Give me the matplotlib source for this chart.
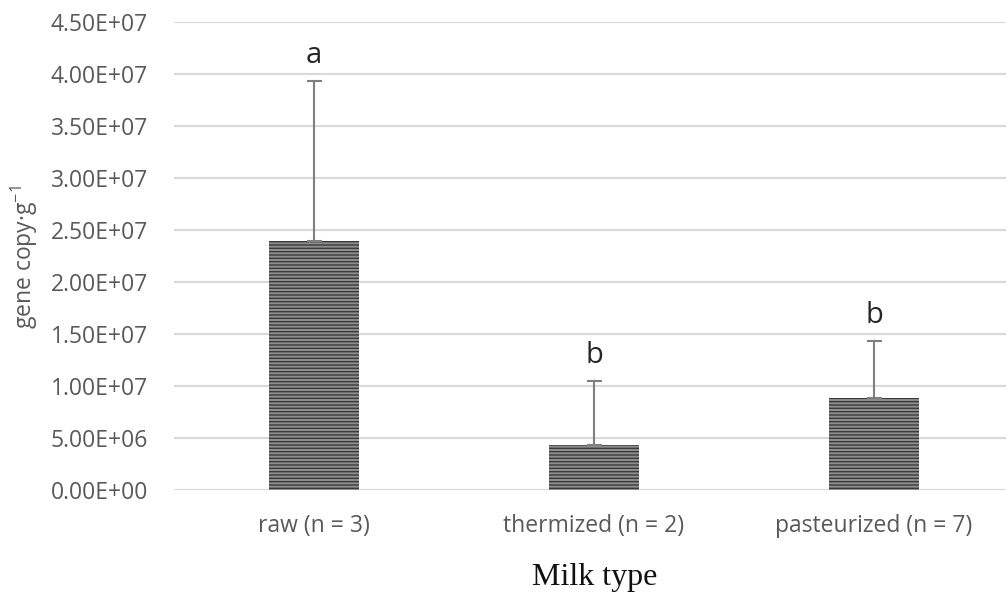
import matplotlib
matplotlib.use("Agg")
import matplotlib.pyplot as plt
import numpy as np

categories = ["raw (n = 3)", "thermized (n = 2)", "pasteurized (n = 7)"]
means = [2.39e7, 4.3e6, 8.8e6]
err_upper = [1.54e7, 6.2e6, 5.55e6]
letters = ["a", "b", "b"]
yticks = [0, 5e6, 1e7, 1.5e7, 2e7, 2.5e7, 3e7, 3.5e7, 4e7, 4.5e7]
ytick_labels = ["0.00E+00", "5.00E+06", "1.00E+07", "1.50E+07", "2.00E+07",
                "2.50E+07", "3.00E+07", "3.50E+07", "4.00E+07", "4.50E+07"]

plt.rcParams['hatch.linewidth'] = 1.0
plt.rcParams['mathtext.fontset'] = 'custom'
plt.rcParams['mathtext.rm'] = 'Open Sans'
plt.rcParams['mathtext.default'] = 'regular'

W, H = 1006, 598
fig = plt.figure(figsize=(W / 100, H / 100), dpi=100)
ax = fig.add_axes([174 / W, 1 - 490 / H, 840 / W, 468 / H])

x = np.arange(len(categories))
ax.bar(x, means, width=0.318, color='#8e8e8e', edgecolor='#3a3a3a', linewidth=0,
       hatch='-----', zorder=2)
ax.errorbar(x, means, yerr=[[0] * len(means), err_upper], fmt='none',
            ecolor='#7f7f7f', elinewidth=1.5, capsize=5.4, capthick=1.5, zorder=3)

for xi, m, e, lt in zip(x, means, err_upper, letters):
    ax.text(xi, m + e + 1.75e6, lt, ha='center', va='baseline', fontsize=21,
            family='Open Sans', color='#262626')

ax.set_xlim(-0.5, 2.5)
ax.set_ylim(0, 4.5e7)
ax.set_yticks(yticks)
ax.set_yticklabels(ytick_labels)
ax.set_xticks(x)
ax.set_xticklabels(categories)
ax.yaxis.grid(True, color='#d9d9d9', linewidth=1.5, zorder=0)
ax.set_axisbelow(True)
for s in ax.spines.values():
    s.set_visible(False)
ax.tick_params(axis='both', length=0, labelsize=16.5, labelcolor='#595959')
for lab in ax.get_xticklabels() + ax.get_yticklabels():
    lab.set_family('Open Sans')
ax.tick_params(axis='y', pad=18.7)
ax.tick_params(axis='x', pad=17)

fig.text(595 / W, 1 - 577 / H, "Milk type", ha='center', va='center',
         family='Liberation Serif', fontsize=23, color='#111111')
fig.text(24 / W, 1 - 257 / H, "gene copy·g$^{-1}$", rotation=90, ha='center', va='center',
         family='Open Sans', fontsize=16.5, color='#595959')

fig.savefig("out.png", dpi=100)
